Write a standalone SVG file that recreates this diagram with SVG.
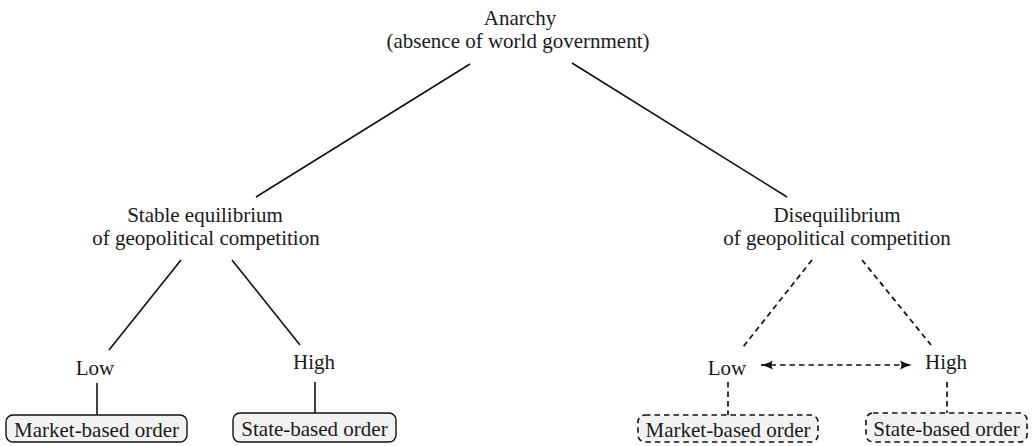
<svg xmlns="http://www.w3.org/2000/svg" width="1034" height="446" viewBox="0 0 1034 446">
<style>
text{font-family:"Liberation Serif","Times New Roman","DejaVu Serif",serif;font-size:21px;fill:#1a1a1a;text-anchor:middle}
.ln{stroke:#111;stroke-width:1.6;fill:none}
.dl{stroke:#111;stroke-width:1.7;fill:none;stroke-dasharray:5.5,4}
.box{fill:#f2f2f2;stroke:#111;stroke-width:1.4}
.dbox{fill:#f2f2f2;stroke:#111;stroke-width:1.6;stroke-dasharray:5.5,4}
</style>
<defs>
<marker id="ah" viewBox="0 0 13 10" refX="12" refY="5" markerWidth="13" markerHeight="10" markerUnits="userSpaceOnUse" orient="auto-start-reverse">
<path d="M0,0.5 Q6,4 12,5 Q6,6 0,9.5 Q3,5 0,0.5 Z" fill="#111"/>
</marker>
</defs>
<g id="connectors">
<line class="ln" x1="470" y1="64" x2="256" y2="197"/>
<line class="ln" x1="572" y1="63" x2="787" y2="197"/>
<line class="ln" x1="181" y1="260" x2="109" y2="350"/>
<line class="ln" x1="232" y1="260" x2="300" y2="345"/>
<line class="dl" x1="812" y1="260" x2="743" y2="347"/>
<line class="dl" x1="862" y1="260" x2="931" y2="345"/>
<line class="ln" x1="97" y1="383" x2="97" y2="415"/>
<line class="ln" x1="315" y1="382" x2="315" y2="413"/>
<line class="dl" x1="728" y1="382" x2="728" y2="415"/>
<line class="dl" x1="947" y1="382" x2="947" y2="413"/>
<line class="dl" x1="761" y1="365" x2="912" y2="365" marker-start="url(#ah)" marker-end="url(#ah)"/>
</g>
<g id="anarchy">
<text x="520" y="25">Anarchy</text>
<text x="518" y="48">(absence of world government)</text>
</g>
<g id="stable">
<text x="205" y="222">Stable equilibrium</text>
<text x="206" y="245">of geopolitical competition</text>
</g>
<g id="disequilibrium">
<text x="837" y="222">Disequilibrium</text>
<text x="837" y="245">of geopolitical competition</text>
</g>
<g id="low-left"><text x="95" y="375">Low</text></g>
<g id="high-left"><text x="314" y="369">High</text></g>
<g id="low-right"><text x="727" y="375">Low</text></g>
<g id="high-right"><text x="946" y="369">High</text></g>
<g id="market-left">
<rect class="box" x="6" y="415" width="181" height="27" rx="7"/>
<text x="96.5" y="437">Market-based order</text>
</g>
<g id="state-left">
<rect class="box" x="233" y="413" width="163" height="29" rx="7"/>
<text x="314.5" y="436">State-based order</text>
</g>
<g id="market-right">
<rect class="dbox" x="638" y="415" width="180" height="27" rx="7"/>
<text x="728" y="437">Market-based order</text>
</g>
<g id="state-right">
<rect class="dbox" x="866" y="413" width="161" height="29" rx="7"/>
<text x="946.5" y="436">State-based order</text>
</g>
</svg>
